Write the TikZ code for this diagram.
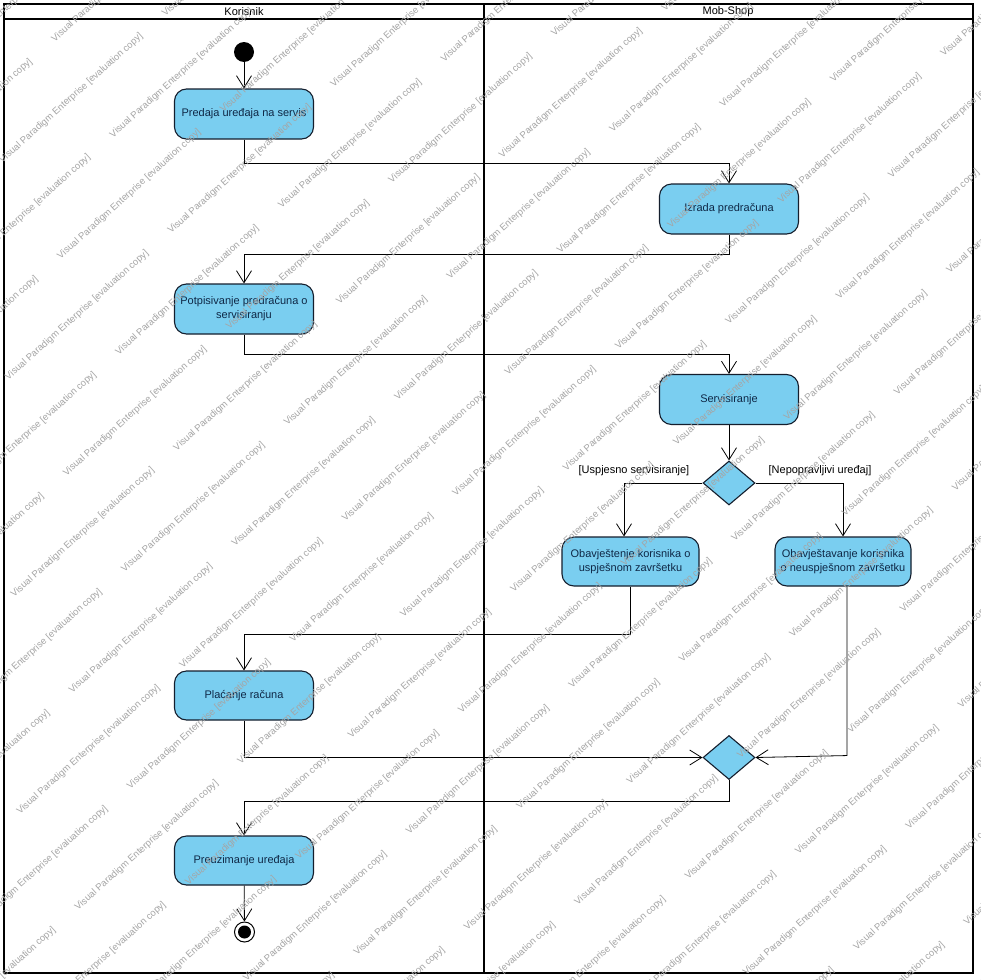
\documentclass[tikz,border=0pt]{standalone}
\usepackage{fontspec}
\setmainfont{Liberation Sans}
\usetikzlibrary{arrows.meta,shapes.geometric}

\definecolor{actfill}{RGB}{122,206,240}
\definecolor{actline}{RGB}{20,30,45}
\definecolor{acttext}{RGB}{15,40,70}
\definecolor{wmark}{RGB}{165,165,165}

\tikzset{
  lane/.style={line width=1.8pt, draw=black},
  lanetitle/.style={font=\fontsize{11}{13}\selectfont, inner sep=0pt},
  action/.style={rectangle, rounded corners=12pt, draw=actline, line width=1.1pt,
    fill=actfill, minimum width=139pt, minimum height=50pt, text=acttext,
    font=\fontsize{11}{14}\selectfont, align=center, inner sep=0pt},
  decision/.style={diamond, draw=actline, line width=1.1pt, fill=actfill,
    minimum width=52pt, minimum height=44pt, inner sep=0pt},
  startnode/.style={circle, fill=black, minimum size=20pt, inner sep=0pt},
  endnode/.style={circle, draw=black, line width=1pt, fill=white, minimum size=20pt, inner sep=0pt},
  flow/.style={draw=black, line width=0.8pt, -{Straight Barb[length=12pt, width=15pt]}},
  guard/.style={font=\fontsize{11}{13}\selectfont, inner sep=1pt},
  wm/.style={text=wmark, font=\fontsize{9.5}{11}\selectfont, rotate=42,
    anchor=base west, inner sep=0pt},
}

\begin{document}
\begin{tikzpicture}[x=1pt, y=-1pt]
  \useasboundingbox (0,0) rectangle (980,980);
  \fill[white] (0,0) rectangle (980,980);

  % swimlanes
  \draw[lane] (4,4) rectangle (973,973);
  \draw[lane] (4,19) -- (973,19);
  \draw[lane] (484,4) -- (484,973);
  \node[lanetitle] (laneA) at (244,12) {Korisnik};
  \node[lanetitle] (laneB) at (728,12) {Mob-Shop};

  % activities
  \node[startnode] (init) at (244,52) {};
  \node[action] (predaja) at (244,114) {Predaja uređaja na servis};
  \node[action] (izrada) at (729,209) {Izrada predračuna};
  \node[action] (potpis) at (244,309) {Potpisivanje predračuna o\\servisiranju};
  \node[action] (servis) at (729,399.5) {Servisiranje};
  \node[decision] (dec) at (729,483) {};
  \node[action, minimum width=137pt, minimum height=49pt] (obavL) at (630.5,561.5)
    {Obavještenje korisnika o\\uspješnom završetku};
  \node[action, minimum width=136pt, minimum height=49pt] (obavR) at (843,561.5)
    {Obavještavanje korisnika\\o neuspješnom završetku};
  \node[action, minimum height=49pt] (placanje) at (244,695.5) {Plaćanje računa};
  \node[decision] (merge) at (729,757.5) {};
  \node[action, minimum height=49pt] (preuz) at (244,860.5) {Preuzimanje uređaja};
  \node[endnode] (final) at (244.5,932) {};
  \fill[black] (final.center) circle[radius=6.5pt];

  % guards
  \node[guard] (g1) at (634,471) {[Uspjesno servisiranje]};
  \node[guard] (g2) at (820,471) {[Nepopravljivi uređaj]};

  % control flows
  \draw[flow] (init) -- (predaja);
  \draw[flow] (predaja.south) -- ++(0,24) -| (izrada.north);
  \draw[flow] (izrada.south) -- ++(0,20) -| (potpis.north);
  \draw[flow] (potpis.south) -- ++(0,20) -| (servis.north);
  \draw[flow] (servis) -- (dec);
  \draw[flow] (dec.west) -| ([xshift=-6.5pt]obavL.north);
  \draw[flow] (dec.east) -| (obavR.north);
  \draw[flow] (obavL.south) -- ++(0,47.5) -| (placanje.north);
  \draw[flow] (placanje.south) |- (merge.west);
  \draw[flow] ([xshift=4pt]obavR.south) -- ++(0,169) -- (merge.east);
  \draw[flow] (merge.south) -- ++(0,21) -| (preuz.north);
  \draw[flow] (preuz) -- (final);

  % evaluation watermark
  \begin{scope}
    \clip (0,0) rectangle (980,980);
    \foreach \i in {-16,...,16} {
      \foreach \j in {-7,...,8} {
        \node[wm] (wm-\i-\j) at ({293+110.4*\i+162.7*\j},{643-25.3*\i-146.5*\j})
          {Visual Paradigm Enterprise [evaluation copy]};
      }
    }
  \end{scope}
\end{tikzpicture}
\end{document}
